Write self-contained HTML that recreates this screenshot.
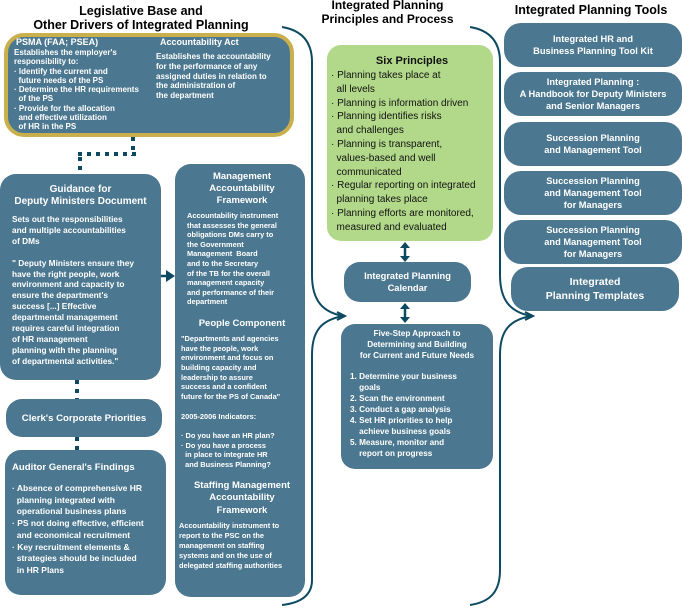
<!DOCTYPE html>
<html><head><meta charset="utf-8"><style>
body{margin:0;width:682px;height:609px;background:#fff;position:relative;overflow:hidden;font-family:"Liberation Sans",Arial,sans-serif}
.b{position:absolute;background:#4b7890;color:#fff;font-weight:bold;box-sizing:border-box}
.t{position:absolute;font-weight:bold;color:#000;text-align:center;font-size:12.5px;line-height:14px}
p{margin:0}
.s{font-size:8px;line-height:9.3px}
.h{font-size:10px;line-height:12px;text-align:center}
.c{text-align:center}
.tool{position:absolute;background:#4b7890;color:#fff;font-weight:bold;text-align:center;font-size:9.3px;line-height:12px;border-radius:17px;display:flex;align-items:center;justify-content:center;box-sizing:border-box}
</style></head><body>
<svg width="682" height="609" style="position:absolute;left:0;top:0">
<g fill="none" stroke="#0d4a62" stroke-width="2">
<path d="M282,27 C300,30 312,40 312,62 L312,275 C312,300 322,312 343,316 C322,320 312,330 312,355 L312,580 C312,596 300,603 282,605"/>
<path d="M470,27 C488,30 500,40 500,62 L500,275 C500,300 510,312 531,316 C510,320 500,330 500,355 L500,570 C500,592 490,602 470,605"/>
</g>
<path d="M337,312 L345,316 L337,320" fill="none" stroke="#0d4a62" stroke-width="2"/>
<path d="M525,312 L533,316 L525,320" fill="none" stroke="#0d4a62" stroke-width="2"/>
<g stroke="#0d4a62" stroke-width="4" fill="none" stroke-dasharray="4 5">
<path d="M133,137 L133,156"/><path d="M136,154 L78,154"/><path d="M80,157 L80,175"/>
<path d="M77,380 L77,400"/><path d="M77,437 L77,451"/>
</g>
<g stroke="#0d4a62" stroke-width="2.5" fill="#0d4a62">
<line x1="161" y1="276" x2="168" y2="276"/><path d="M166,270 L175,276 L166,282Z" stroke="none"/>
<line x1="405" y1="246" x2="405" y2="258"/><path d="M400,248 L405,242 L410,248Z M400,256 L405,262 L410,256Z" stroke="none"/>
<line x1="405" y1="307" x2="405" y2="319"/><path d="M400,309 L405,303 L410,309Z M400,317 L405,323 L410,317Z" stroke="none"/>
</g>
</svg>

<div class="t" style="left:0;top:4px;width:282px">Legislative Base and<br>Other Drivers of Integrated Planning</div>
<div class="t" style="left:315px;top:-2px;width:145px;font-size:12px">Integrated Planning<br>Principles and Process</div>
<div class="t" style="left:500px;top:3px;width:182px">Integrated Planning Tools</div>

<div class="b" style="left:4px;top:33px;width:290px;height:104px;border:4px solid #c9b04c;border-radius:20px">
<div style="position:absolute;left:6px;top:0px;width:140px"><p style="font-size:9px;line-height:11px;margin-left:2px">PSMA (FAA; PSEA)</p>
<p class="s">Establishes the employer's<br>responsibility to:<br>· Identify the current and<br>&nbsp;&nbsp;future needs of the PS<br>· Determine the HR requirements<br>&nbsp;&nbsp;of the PS<br>· Provide for the allocation<br>&nbsp;&nbsp;and effective utilization<br>&nbsp;&nbsp;of HR in the PS</p></div>
<div style="position:absolute;left:148px;top:0px;width:140px"><p style="font-size:9px;line-height:11px;margin-left:4px">Accountability Act</p>
<p class="s" style="margin-top:4px;line-height:9.8px">Establishes the accountability<br>for the performance of any<br>assigned duties in relation to<br>the administration of<br>the department</p></div>
</div>

<div class="b" style="left:0;top:174px;width:161px;height:206px;border-radius:16px;padding:10px 0 0 12px">
<p class="h" style="margin-left:-12px">Guidance for<br>Deputy Ministers Document</p>
<p style="font-size:8.3px;line-height:10.9px;margin-top:6px">Sets out the responsibilities<br>and multiple accountabilities<br>of DMs<br><br>" Deputy Ministers ensure they<br>have the right people, work<br>environment and capacity to<br>ensure the department's<br>success [...] Effective<br>departmental management<br>requires careful integration<br>of HR management<br>planning with the planning<br>of departmental activities."</p>
</div>

<div class="b" style="left:6px;top:399px;width:156px;height:38px;border-radius:16px;font-size:9.6px;display:flex;align-items:center;justify-content:center">Clerk's Corporate Priorities</div>

<div class="b" style="left:5px;top:450px;width:161px;height:145px;border-radius:16px;padding:12px 0 0 7px">
<p style="font-size:9.6px;line-height:11px">Auditor General's Findings</p>
<p style="font-size:8.5px;line-height:11.7px;margin-top:10px">· Absence of comprehensive HR<br>&nbsp;&nbsp;planning integrated with<br>&nbsp;&nbsp;operational business plans<br>· PS not doing effective, efficient<br>&nbsp;&nbsp;and economical recruitment<br>· Key recruitment elements &amp;<br>&nbsp;&nbsp;strategies should be included<br>&nbsp;&nbsp;in HR Plans</p>
</div>

<div class="b" style="left:175px;top:164px;width:130px;height:433px;border-radius:16px;padding:7px 0 0 4px">
<p class="h" style="font-size:9.5px">Management<br>Accountability<br>Framework</p>
<p style="font-size:7.4px;line-height:9.6px;margin:4px 0 0 8px">Accountability instrument<br>that assesses the general<br>obligations DMs carry to<br>the Government<br>Management &nbsp;Board<br>and to the Secretary<br>of the TB for the overall<br>management capacity<br>and performance of their<br>department</p>
<p class="h" style="font-size:9.5px;margin-top:11px">People Component</p>
<p style="font-size:7.4px;line-height:9.7px;margin:4px 0 0 2px">"Departments and agencies<br>have the people, work<br>environment and focus on<br>building capacity and<br>leadership to assure<br>success and a confident<br>future for the PS of Canada"<br><br>2005-2006 Indicators:<br><br>· Do you have an HR plan?<br>· Do you have a process<br>&nbsp;&nbsp;in place to integrate HR<br>&nbsp;&nbsp;and Business Planning?</p>
<p class="h" style="font-size:9.5px;line-height:12.5px;margin-top:10px">Staffing Management<br>Accountability<br>Framework</p>
<p style="font-size:7.4px;line-height:10px;margin:4px 0 0 0">Accountability instrument to<br>report to the PSC on the<br>management on staffing<br>systems and on the use of<br>delegated staffing authorities</p>
</div>

<div style="position:absolute;left:327px;top:45px;width:166px;height:196px;background:#b2d98a;border-radius:14px;color:#111;box-sizing:border-box;padding:10px 0 0 4px">
<p style="font-weight:bold;font-size:11px;text-align:center;line-height:13px">Six Principles</p>
<p style="font-size:10px;line-height:13.8px;margin-top:1px">· Planning takes place at<br>&nbsp;&nbsp;all levels<br>· Planning is information driven<br>· Planning identifies risks<br>&nbsp;&nbsp;and challenges<br>· Planning is transparent,<br>&nbsp;&nbsp;values-based and well<br>&nbsp;&nbsp;communicated<br>· Regular reporting on integrated<br>&nbsp;&nbsp;planning takes place<br>· Planning efforts are monitored,<br>&nbsp;&nbsp;measured and evaluated</p>
</div>

<div class="b" style="left:344px;top:262px;width:127px;height:40px;border-radius:16px;font-size:9.3px;line-height:12px;display:flex;align-items:center;justify-content:center;text-align:center">Integrated Planning<br>Calendar</div>

<div class="b" style="left:341px;top:324px;width:152px;height:145px;border-radius:14px;padding:5px 0 0 9px">
<p class="c" style="font-size:8.2px;line-height:10.8px;margin-left:-9px">Five-Step Approach to<br>Determining and Building<br>for Current and Future Needs</p>
<p style="font-size:8.2px;line-height:10.9px;margin-top:11px">1. Determine your business<br>&nbsp;&nbsp;&nbsp;&nbsp;goals<br>2. Scan the environment<br>3. Conduct a gap analysis<br>4. Set HR priorities to help<br>&nbsp;&nbsp;&nbsp;&nbsp;achieve business goals<br>5. Measure, monitor and<br>&nbsp;&nbsp;&nbsp;&nbsp;report on progress</p>
</div>

<div class="tool" style="left:504px;top:23px;width:178px;height:44px">Integrated HR and<br>Business Planning Tool Kit</div>
<div class="tool" style="left:504px;top:72px;width:178px;height:44px">Integrated Planning :<br>A Handbook for Deputy Ministers<br>and Senior Managers</div>
<div class="tool" style="left:504px;top:122px;width:178px;height:44px">Succession Planning<br>and Management Tool</div>
<div class="tool" style="left:504px;top:171px;width:178px;height:44px">Succession Planning<br>and Management Tool<br>for Managers</div>
<div class="tool" style="left:504px;top:220px;width:178px;height:44px">Succession Planning<br>and Management Tool<br>for Managers</div>
<div class="tool" style="left:511px;top:267px;width:168px;height:44px;font-size:10.5px;line-height:14px">Integrated<br>Planning Templates</div>
</body></html>
